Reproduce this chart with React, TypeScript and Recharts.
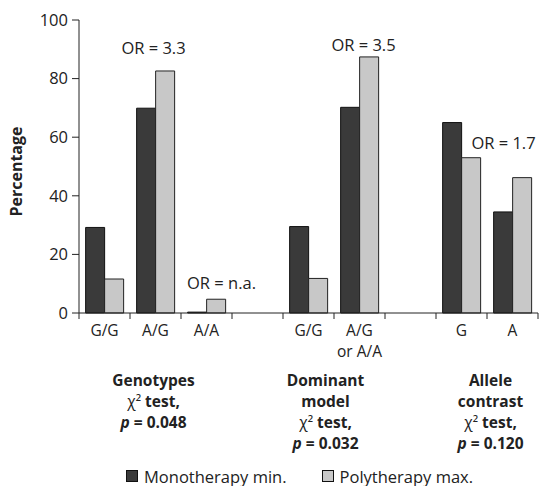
import React from "react";
import { BarChart, Bar, XAxis, YAxis, Legend, ReferenceDot } from "recharts";

const FONT = "'Open Sans', 'Noto Sans', sans-serif";
const INK = "#222";
const FS = 15.5;

// categories (ids are unique, labels are what is printed under the axis)
const categoryIds = ["gen-gg", "gen-ag", "gen-aa", "gap-1", "dom-gg", "dom-ag", "gap-2", "all-g", "all-a"];
const categoryLabels = [["G/G"], ["A/G"], ["A/A"], [], ["G/G"], ["A/G", "or A/A"], [], ["G"], ["A"]];

// percentages
const monotherapyMin = [29.2, 69.9, 0.3, null, 29.5, 70.2, null, 65, 34.5];
const polytherapyMax = [11.6, 82.6, 4.7, null, 11.8, 87.4, null, 53, 46.2];

const yTicks = [0, 20, 40, 60, 80, 100];

const oddsRatios = [
  { id: "gen-ag", y: 90.4, dx: -2, text: "OR = 3.3" },
  { id: "gen-aa", y: 10.3, dx: 15, text: "OR = n.a." },
  { id: "dom-ag", y: 91.5, dx: 4, text: "OR = 3.5" },
  { id: "all-a", y: 58.1, dx: -9, text: "OR = 1.7" },
];

const groupTitles = [
  { anchor: "gen-ag", dx: -2, lines: ["Genotypes"], p: "0.048" },
  { anchor: "dom-gg", dx: 17, lines: ["Dominant", "model"], p: "0.032" },
  { anchor: "all-g", dx: 29, lines: ["Allele", "contrast"], p: "0.120" },
];

const data = categoryIds.map((id, i) => ({
  id,
  mono: monotherapyMin[i],
  poly: polytherapyMax[i],
}));

const WIDTH = 540;
const HEIGHT = 486;
const MARGIN = { top: 20, right: 2, left: 0, bottom: 0 };
const Y_AXIS_W = 79;
const BAND = (WIDTH - MARGIN.left - MARGIN.right - Y_AXIS_W) / categoryIds.length;

const CategoryTick = (props: any) => {
  const { x, y, payload } = props;
  const i = categoryIds.indexOf(payload.value);
  const half = BAND / 2;
  const title = groupTitles.find((g) => g.anchor === payload.value);
  const bold = { textAnchor: "middle" as const, fontFamily: FONT, fontSize: 15.5, fontWeight: "bold", fill: INK };
  return (
    <g>
      <line x1={x - half} x2={x - half} y1={y} y2={y + 6} stroke={INK} />
      {i === categoryIds.length - 1 && (
        <line x1={x + half} x2={x + half} y1={y} y2={y + 6} stroke={INK} />
      )}
      {categoryLabels[i].map((t, k) => (
        <text key={k} x={x} y={y + 23 + k * 20.5} textAnchor="middle" fontFamily={FONT} fontSize={FS} fill={INK}>
          {t}
        </text>
      ))}
      {title && (
        <g>
          {title.lines.map((t, k) => (
            <text key={k} x={x + title.dx} y={y + 73 + k * 21} {...bold}>
              {t}
            </text>
          ))}
          <text x={x + title.dx} y={y + 73 + title.lines.length * 21} {...bold}>
            <tspan fontWeight="normal">χ²</tspan> test,
          </text>
          <text x={x + title.dx} y={y + 73 + (title.lines.length + 1) * 21} {...bold}>
            <tspan fontStyle="italic">p</tspan> = {title.p}
          </text>
        </g>
      )}
    </g>
  );
};

const LegendContent = (props: any) => {
  const { payload } = props;
  return (
    <div
      style={{
        display: "flex",
        alignItems: "center",
        height: 20,
        paddingLeft: 126,
        fontFamily: FONT,
        fontSize: 16.5,
        color: INK,
      }}
    >
      {(payload || []).map((entry: any, k: number) => (
        <div key={k} style={{ display: "flex", alignItems: "center", marginRight: 35 }}>
          <span
            style={{
              display: "inline-block",
              width: 10,
              height: 10,
              background: entry.color,
              border: "1px solid #111",
              marginRight: 6,
            }}
          />
          <span>{entry.value}</span>
        </div>
      ))}
    </div>
  );
};

export default function App() {
  return (
    <div style={{ position: "absolute", left: 0, top: 0 }}>
      <BarChart
        width={WIDTH}
        height={HEIGHT}
        data={data}
        margin={MARGIN}
        barGap={0}
        barCategoryGap="13%"
      >
        <XAxis
          dataKey="id"
          interval={0}
          height={153}
          tickSize={0}
          tickMargin={0}
          tickLine={false}
          axisLine={{ stroke: INK }}
          tick={<CategoryTick />}
        />
        <XAxis
          xAxisId="top"
          dataKey="id"
          orientation="top"
          height={0}
          tick={false}
          tickLine={false}
          axisLine={{ stroke: INK }}
        />
        <YAxis
          domain={[0, 100]}
          ticks={yTicks}
          width={Y_AXIS_W}
          tickSize={7}
          tickMargin={4}
          axisLine={{ stroke: INK }}
          tickLine={{ stroke: INK }}
          tick={{ fill: INK, fontSize: 16.5, fontFamily: FONT }}
          label={(p: any) => {
            const vb = p.viewBox;
            const cx = 16;
            const cy = vb.y + vb.height / 2 + 5;
            return (
              <text
                x={cx}
                y={cy}
                transform={`rotate(-90 ${cx} ${cy})`}
                textAnchor="middle"
                dominantBaseline="central"
                fontFamily={FONT}
                fontSize={16}
                fontWeight="bold"
                fill={INK}
              >
                Percentage
              </text>
            );
          }}
        />
        <YAxis
          yAxisId="right"
          orientation="right"
          domain={[0, 100]}
          width={0}
          tick={false}
          tickLine={false}
          axisLine={{ stroke: "#555" }}
        />
        <Bar dataKey="mono" name="Monotherapy min." fill="#3a3a3a" stroke="#111" isAnimationActive={false} />
        <Bar dataKey="poly" name="Polytherapy max." fill="#c8c8c8" stroke="#222" isAnimationActive={false} />
        {oddsRatios.map((o) => (
          <ReferenceDot
            key={o.id}
            x={o.id}
            y={o.y}
            r={1}
            shape={(p: any) => (
              <text
                x={p.cx + o.dx}
                y={p.cy}
                dy="0.35em"
                textAnchor="middle"
                fontFamily={FONT}
                fontSize={16.5}
                fill={INK}
              >
                {o.text}
              </text>
            )}
          />
        ))}
        <Legend
          verticalAlign="bottom"
          wrapperStyle={{ left: 0, width: WIDTH }}
          content={<LegendContent />}
        />
      </BarChart>
    </div>
  );
}
